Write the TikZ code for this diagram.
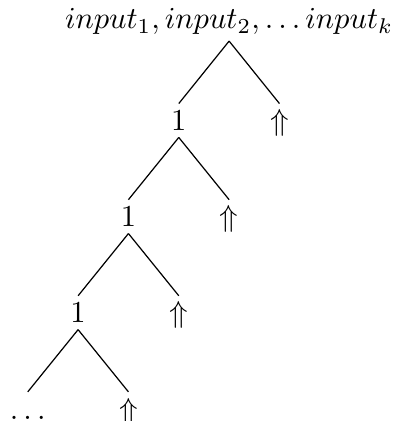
\documentclass[tikz,border=0pt]{standalone}
\usepackage{tikz}
\tikzset{
    every child node/.style={text height=6.7pt, text depth=0pt},
    level 1/.style={level distance=32.5pt}
}

\begin{document}
\begin{tikzpicture}[inner sep=2pt, parent anchor=south, child anchor=north]
\tikzstyle{level}=[sibling distance=33pt, level distance=31.5pt]
\useasboundingbox (-75.1pt,7pt) rectangle (53.8pt,-131pt);

\node (root) at (0,0) {$input_1, input_2, \ldots input_k$}
    child {node (one1) {1}
        child {node (one2) {1}
            child {node (one3) {1}
                child {node (dots) {$\ldots$}}
                child {node (up3) {$\Uparrow$}}}
            child {node (up2) {$\Uparrow$}}}
        child {node (up1) {$\Uparrow$}}}
    child {node (up0) {$\Uparrow$}};
\end{tikzpicture}
\end{document}
